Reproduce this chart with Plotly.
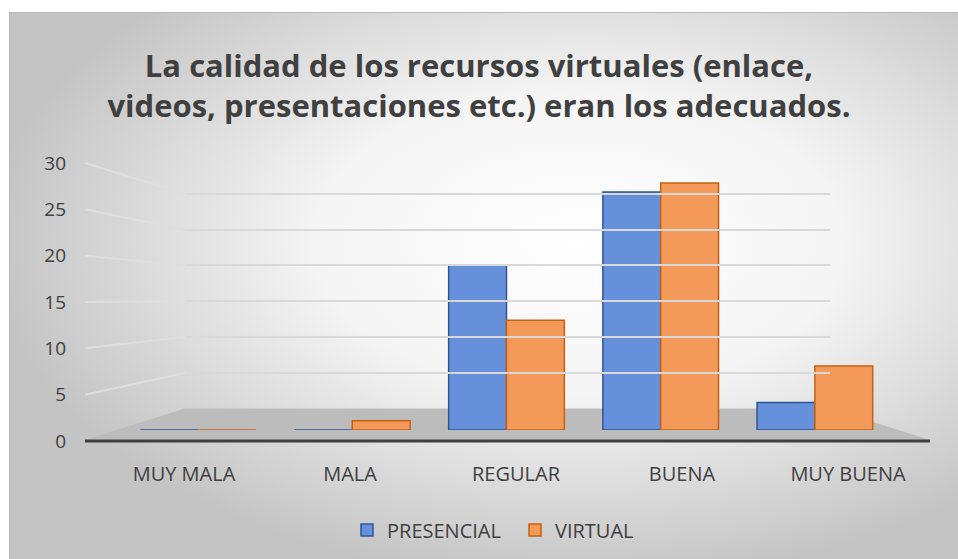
import base64
import plotly.graph_objects as go

# ---- data ----
categories = ["MUY MALA", "MALA", "REGULAR", "BUENA", "MUY BUENA"]
presencial = [0, 0, 18, 26, 3]
virtual = [0, 1, 12, 27, 7]
y_ticks = [0, 5, 10, 15, 20, 25, 30]

W, H = 958, 559
def px(x): return x / W
def py(y): return 1 - y / H

FONT = "Open Sans"
TXT = "#404040"
YMAX = 30
YTOP = 30.6  # small headroom so the top gridline is drawn

def ydom(y0_px, y30_px, top=YMAX):
    a, b = py(y0_px), py(y30_px)
    return [a, a + (b - a) * top / YMAX]

# axis domains (paper)
bar_xdom = [px(121), px(892)]
bar_ydom = ydom(430, 155.5)
lab_ydom = ydom(441, 163)
lab_xdom = [px(101), px(931)]
wall_xdom = [px(185), px(830)]
wall_ydom = ydom(408.4, 194, YTOP)

fig = go.Figure()
fig.add_trace(go.Bar(name="PRESENCIAL", x=categories, y=presencial,
                     marker=dict(color="#6790DA", line=dict(color="#2F5597", width=1.5)),
                     xaxis="x", yaxis="y"))
fig.add_trace(go.Bar(name="VIRTUAL", x=categories, y=virtual,
                     marker=dict(color="#F39A5A", line=dict(color="#C8600F", width=1.5)),
                     xaxis="x", yaxis="y"))
# helper traces so the label axes and back-wall axis get drawn
fig.add_trace(go.Scatter(x=[0], y=[0], xaxis="x2", yaxis="y2", mode="markers",
                         marker=dict(opacity=0), showlegend=False, hoverinfo="skip"))
fig.add_trace(go.Scatter(x=[0], y=[0], xaxis="x3", yaxis="y3", mode="markers",
                         marker=dict(opacity=0), showlegend=False, hoverinfo="skip"))
fig.add_trace(go.Scatter(x=categories, y=[0] * len(categories), xaxis="x4", yaxis="y",
                         mode="markers", marker=dict(opacity=0), showlegend=False,
                         hoverinfo="skip"))

# background gradient as svg image
svg = f'''<svg xmlns="http://www.w3.org/2000/svg" width="{W}" height="{H}" viewBox="0 0 {W} {H}" preserveAspectRatio="none">
<defs><radialGradient id="g" cx="0.6" cy="0.42" r="0.62" gradientUnits="objectBoundingBox">
<stop offset="0" stop-color="#ffffff"/><stop offset="0.45" stop-color="#f4f4f4"/>
<stop offset="1" stop-color="#c4c4c4"/></radialGradient></defs>
<rect x="9" y="12" width="{W-9}" height="{H-12}" fill="url(#g)"/>
<rect x="9.5" y="12.5" width="{W-9}" height="{H-12}" fill="none" stroke="#b8b8b8" stroke-width="1"/>
</svg>'''
src = "data:image/svg+xml;base64," + base64.b64encode(svg.encode()).decode()

shapes = []
# floor
shapes.append(dict(type="path", xref="paper", yref="paper", layer="below",
                   path=f"M {px(85)} {py(440)} L {px(185)} {py(408.4)} L {px(830)} {py(408.4)} L {px(930)} {py(440)} Z",
                   fillcolor="#bcbcbc", line=dict(width=0)))
# slanted left-wall gridline segments
la, lb = py(441), py(163)
wa, wb = py(408.4), py(194)
for v in y_ticks[1:]:
    y_front = la + (lb - la) * v / YMAX
    y_back = wa + (wb - wa) * v / YMAX
    shapes.append(dict(type="line", xref="paper", yref="paper", layer="below",
                       x0=px(85), y0=y_front, x1=px(185), y1=y_back,
                       line=dict(color="#dedede", width=2)))
# front axis line
shapes.append(dict(type="line", xref="paper", yref="paper", layer="below",
                   x0=px(85), y0=py(441), x1=px(930), y1=py(441),
                   line=dict(color="#404040", width=3)))

fig.update_layout(
    template="none",
    width=W, height=H, autosize=False,
    margin=dict(l=0, r=0, t=0, b=0, pad=0),
    paper_bgcolor="white", plot_bgcolor="rgba(0,0,0,0)",
    images=[dict(source=src, xref="paper", yref="paper", x=0, y=1, sizex=1, sizey=1,
                 sizing="stretch", layer="below", xanchor="left", yanchor="top")],
    shapes=shapes,
    barmode="group", bargap=0.25, bargroupgap=0,
    title=dict(text="La calidad de los recursos virtuales (enlace,<br>videos, presentaciones etc.) eran los adecuados.",
               x=0.5, xanchor="center", y=py(77), yanchor="middle", automargin=False,
               font=dict(family=FONT, size=31, color=TXT, weight="bold")),
    font=dict(family=FONT, size=20, color=TXT),
    xaxis=dict(domain=bar_xdom, anchor="y", showgrid=False, zeroline=False, showline=False,
               automargin=False, showticklabels=False, ticks=""),
    yaxis=dict(domain=bar_ydom, anchor="x", range=[0, YMAX], showgrid=False, zeroline=False,
               automargin=False, showticklabels=False, showline=False),
    xaxis4=dict(domain=lab_xdom, anchor="y", type="category",
                range=[-0.5, len(categories) - 0.5], showgrid=False, zeroline=False,
                showline=False, automargin=False,
                ticks="outside", ticklen=26, tickcolor="rgba(0,0,0,0)",
                tickfont=dict(family=FONT, size=20, color=TXT)),
    xaxis2=dict(domain=[px(67), px(900)], anchor="y2", visible=False, range=[0, 1],
                automargin=False),
    yaxis2=dict(domain=lab_ydom, anchor="x2", range=[0, YMAX], tickvals=y_ticks,
                automargin=False,
                showgrid=False, zeroline=False, showline=False, ticks="",
                tickfont=dict(family=FONT, size=19, color=TXT)),
    xaxis3=dict(domain=wall_xdom, anchor="y3", visible=False, range=[0, 1],
                automargin=False),
    yaxis3=dict(domain=wall_ydom, anchor="x3", range=[0, YTOP], tickvals=y_ticks[1:],
                automargin=False,
                showgrid=True, gridcolor="#d9d9d9", gridwidth=2, zeroline=False,
                showticklabels=False, showline=False, ticks=""),
    legend=dict(orientation="h", x=px(347), xanchor="left", y=py(530), yanchor="middle",
                font=dict(family=FONT, size=20, color=TXT), bgcolor="rgba(0,0,0,0)",
                itemwidth=30, entrywidth=123),
)

fig.write_html("out.html", config={"displayModeBar": False},
               post_script="document.body.style.margin='0';")
